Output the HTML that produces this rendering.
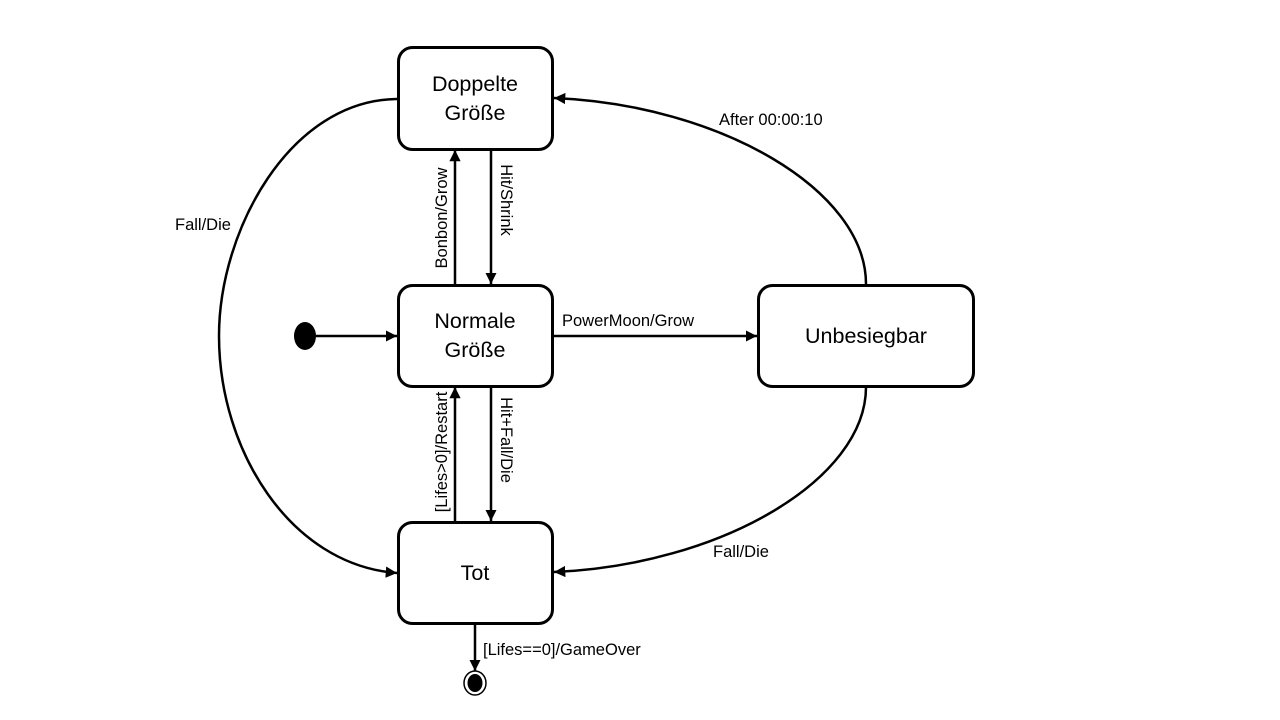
<!DOCTYPE html>
<html><head><meta charset="utf-8"><style>
html,body{margin:0;padding:0;background:#fff;width:1280px;height:720px;overflow:hidden}
text{font-family:"Liberation Sans",sans-serif;fill:#000}
</style></head><body>
<svg width="1280" height="720" viewBox="0 0 1280 720" xmlns="http://www.w3.org/2000/svg">
<defs>
<marker id="a" viewBox="0 0 10 10" refX="10" refY="5" markerWidth="4.5" markerHeight="4.5" orient="auto" markerUnits="strokeWidth">
<path d="M0,0 L10,5 L0,10 z" fill="#000"/></marker>
</defs>
<g fill="#fff" stroke="#000" stroke-width="3">
<rect x="398.5" y="47.5" width="154" height="102" rx="14"/>
<rect x="398.5" y="285.5" width="154" height="101" rx="14"/>
<rect x="398.5" y="522.5" width="154" height="101" rx="14"/>
<rect x="758.5" y="285.5" width="215" height="101" rx="14"/>
</g>
<g stroke="#000" stroke-width="2.5" fill="none" marker-end="url(#a)">
<line x1="316" y1="336" x2="397" y2="336"/>
<line x1="455" y1="284" x2="455" y2="150"/>
<line x1="491" y1="150" x2="491" y2="284"/>
<line x1="455" y1="521" x2="455" y2="387"/>
<line x1="491" y1="387" x2="491" y2="521"/>
<line x1="553" y1="336" x2="757" y2="336"/>
<path d="M866,284 C866,190 720,105 554,98"/>
<path d="M866,387 C866,480 720,565 554,572"/>
<path d="M397,99 C290,100 219,230 219,336 C219,450 290,565 397,573"/>
<line x1="475" y1="624" x2="475" y2="671"/>
</g>
<ellipse cx="305" cy="336" rx="11" ry="14" fill="#000"/>
<ellipse cx="475" cy="683" rx="11" ry="12" fill="#fff" stroke="#000" stroke-width="1.5"/>
<ellipse cx="475" cy="683" rx="7.5" ry="9" fill="#000"/>
<g font-size="21.5" text-anchor="middle">
<text x="475" y="91">Doppelte</text>
<text x="475" y="120">Größe</text>
<text x="475" y="328">Normale</text>
<text x="475" y="357">Größe</text>
<text x="475" y="580">Tot</text>
<text x="866" y="343">Unbesiegbar</text>
</g>
<g font-size="16.5">
<text x="719" y="125">After 00:00:10</text>
<text x="175" y="230">Fall/Die</text>
<text x="713" y="557">Fall/Die</text>
<text x="562" y="326">PowerMoon/Grow</text>
<text x="483" y="655">[Lifes==0]/GameOver</text>
<text transform="translate(447,218) rotate(-90)" text-anchor="middle">Bonbon/Grow</text>
<text transform="translate(501,200) rotate(90)" text-anchor="middle">Hit/Shrink</text>
<text transform="translate(447,452) rotate(-90)" text-anchor="middle">[Lifes&gt;0]/Restart</text>
<text transform="translate(501,440) rotate(90)" text-anchor="middle">Hit+Fall/Die</text>
</g>
</svg>
</body></html>
